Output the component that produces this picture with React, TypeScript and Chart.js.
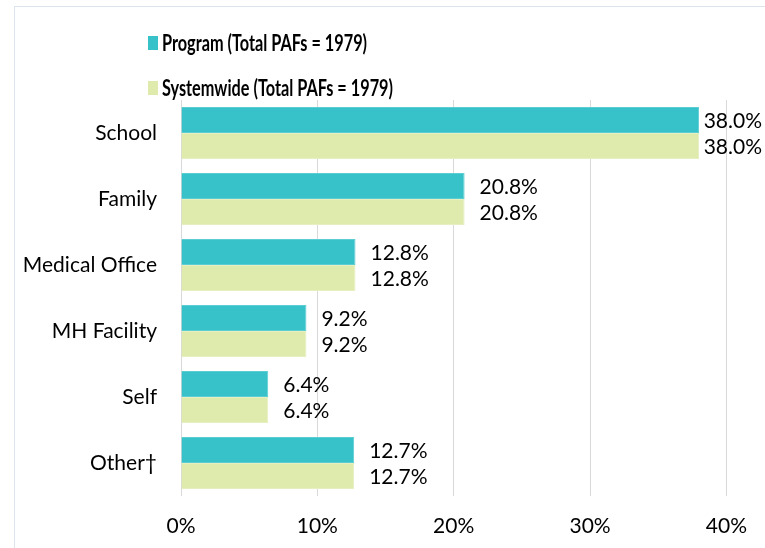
import React, { useEffect, useRef } from "react";
import { Chart, registerables } from "chart.js";

Chart.register(...registerables);

const categories = ["School", "Family", "Medical Office", "MH Facility", "Self", "Other†"];
const programValues = [38.0, 20.8, 12.8, 9.2, 6.4, 12.7];
const systemwideValues = [38.0, 20.8, 12.8, 9.2, 6.4, 12.7];
const seriesLabels = ["Program (Total PAFs = 1979)", "Systemwide (Total PAFs = 1979)"];
const xTicks = [0, 10, 20, 30, 40];

const TEAL = "#37C1C8";
const GREEN = "#DFEAAD";
const FONT = "Lato";

const framePlugin = {
  id: "frame",
  beforeDraw(chart: any) {
    const ctx = chart.ctx;
    ctx.save();
    ctx.fillStyle = "#ffffff";
    ctx.fillRect(0, 0, chart.width, chart.height);
    ctx.strokeStyle = "#DCE5EE";
    ctx.lineWidth = 1;
    ctx.strokeRect(14.5, 6.5, chart.width + 20, chart.height + 20);
    ctx.restore();
  },
};

const legendPlugin = {
  id: "customLegend",
  afterDraw(chart: any) {
    const ctx = chart.ctx;
    ctx.save();
    const rows = [43, 88];
    chart.data.datasets.forEach((ds: any, i: number) => {
      const y = rows[i];
      ctx.fillStyle = ds.backgroundColor;
      ctx.fillRect(148, y - 7, 10, 14);
      ctx.save();
      ctx.translate(162, y + 1);
      ctx.scale(0.74, 1);
      ctx.fillStyle = "#000";
      ctx.font = `bold 22px ${FONT}`;
      ctx.textBaseline = "middle";
      ctx.textAlign = "left";
      ctx.fillText(ds.label, 0, 0);
      ctx.restore();
    });
    ctx.restore();
  },
};

const valueLabelPlugin = {
  id: "valueLabels",
  afterDatasetsDraw(chart: any) {
    const ctx = chart.ctx;
    ctx.save();
    ctx.font = `21px ${FONT}`;
    ctx.fillStyle = "#000";
    ctx.textBaseline = "middle";
    ctx.textAlign = "left";
    chart.data.datasets.forEach((ds: any, di: number) => {
      const meta = chart.getDatasetMeta(di);
      meta.data.forEach((el: any, i: number) => {
        const text = Number(ds.data[i]).toFixed(1) + "%";
        const w = ctx.measureText(text).width;
        let x = el.x + 15;
        if (x + w > chart.width - 3) x = chart.width - 3 - w;
        ctx.fillText(text, x, el.y + 1);
      });
    });
    ctx.restore();
  },
};

export default function App() {
  const ref = useRef<HTMLCanvasElement | null>(null);

  useEffect(() => {
    if (!ref.current) return;
    const chart = new Chart(ref.current, {
      type: "bar",
      data: {
        labels: categories,
        datasets: [
          {
            label: seriesLabels[0],
            data: programValues,
            backgroundColor: TEAL,
            borderColor: "#5CCDD3",
            borderWidth: 1,
            categoryPercentage: 0.79,
            barPercentage: 1.0,
          },
          {
            label: seriesLabels[1],
            data: systemwideValues,
            backgroundColor: GREEN,
            borderColor: "#E6EFC0",
            borderWidth: 1,
            categoryPercentage: 0.79,
            barPercentage: 1.0,
          },
        ],
      },
      options: {
        indexAxis: "y",
        responsive: false,
        animation: false,
        devicePixelRatio: 1,
        layout: { padding: { top: 100, right: 34, bottom: 0, left: 0 } },
        plugins: {
          legend: { display: false },
          tooltip: { enabled: false },
        },
        scales: {
          x: {
            min: 0,
            max: 40,
            afterBuildTicks(scale: any) {
              scale.ticks = xTicks.map((v) => ({ value: v }));
            },
            afterFit(scale: any) {
              scale.height = 52;
            },
            grid: { color: "#D9D9D9", lineWidth: 1, drawTicks: false },
            border: { display: false },
            ticks: {
              padding: 18,
              color: "#000",
              font: { family: FONT, size: 21 },
              callback: (v: any) => v + "%",
            },
          },
          y: {
            afterFit(scale: any) {
              scale.width = 181;
            },
            grid: { display: false, drawTicks: false },
            border: { display: false },
            ticks: {
              padding: 24,
              color: "#000",
              font: { family: FONT, size: 21 },
            },
          },
        },
      },
      plugins: [framePlugin, legendPlugin, valueLabelPlugin],
    });
    return () => chart.destroy();
  }, []);

  return (
    <div style={{ position: "absolute", left: 0, top: 0, width: 765, height: 548 }}>
      <canvas ref={ref} width={765} height={548} />
    </div>
  );
}
